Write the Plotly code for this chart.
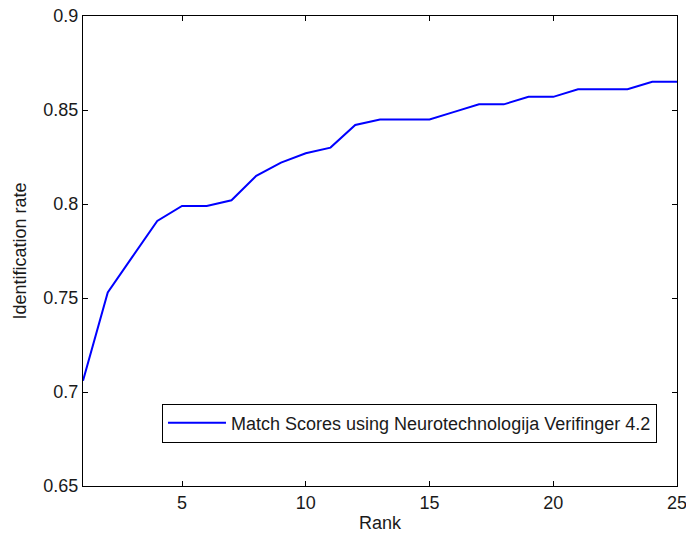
import plotly.graph_objects as go

# Rank-k identification rates (CMC curve)
rank = list(range(1, 26))
identification_rate = [
    0.706, 0.753, 0.772, 0.791, 0.799, 0.799, 0.802, 0.815, 0.822, 0.827,
    0.830, 0.842, 0.845, 0.845, 0.845, 0.849, 0.853, 0.853, 0.857, 0.857,
    0.861, 0.861, 0.861, 0.865, 0.865,
]
series_name = "Match Scores using Neurotechnologija Verifinger 4.2"
x_ticks = [5, 10, 15, 20, 25]
y_ticks = [0.65, 0.7, 0.75, 0.8, 0.85, 0.9]
y_tick_text = ["0.65", "0.7", "0.75", "0.8", "0.85", "0.9"]

FS = 18
TXT = "#1a1a1a"

fig = go.Figure()
fig.add_trace(go.Scatter(
    x=rank, y=identification_rate, mode="lines", name=series_name,
    line=dict(color="#0000ff", width=2),
))

axis_common = dict(
    showgrid=False, zeroline=False, showline=True, linecolor="black",
    linewidth=1, mirror="ticks", ticks="inside", ticklen=5,
    tickcolor="black", tickfont=dict(size=FS, color=TXT),
    automargin=False, ticklabeloverflow="allow",
)
fig.update_xaxes(range=[1, 25], tickvals=x_ticks,
                 title=dict(text="Rank", standoff=4, font=dict(size=FS, color=TXT)),
                 **axis_common)
fig.update_yaxes(range=[0.65, 0.9], tickvals=y_ticks, ticktext=y_tick_text,
                 title=dict(text="Identification rate", standoff=12,
                            font=dict(size=FS, color=TXT)),
                 **axis_common)

fig.update_layout(
    width=686, height=533, autosize=False,
    margin=dict(l=83, r=9, t=16, b=47, autoexpand=False),
    paper_bgcolor="white", plot_bgcolor="white",
    font=dict(family="Liberation Sans, Arial, sans-serif", size=FS, color=TXT),
    showlegend=True,
    legend=dict(
        x=0.9663, y=0.1755, xanchor="right", yanchor="top",
        bgcolor="white", bordercolor="black", borderwidth=1,
        itemwidth=58,
        font=dict(size=FS, color=TXT),
    ),
)

fig.write_html("out.html")
